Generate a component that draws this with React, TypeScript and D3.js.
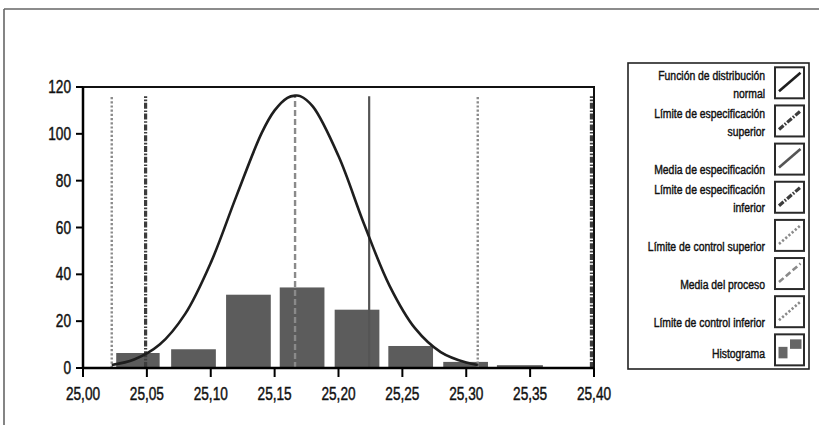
import React from "react";
import * as d3 from "d3";

// ---- data ----
const xTicks = [25.0, 25.05, 25.1, 25.15, 25.2, 25.25, 25.3, 25.35, 25.4];
const yTicks = [0, 20, 40, 60, 80, 100, 120];

const binLower = [25.026, 25.069, 25.112, 25.154, 25.197, 25.239, 25.282, 25.324];
const binUpper = [25.06, 25.104, 25.147, 25.189, 25.232, 25.274, 25.317, 25.36];
const binCounts = [6.4, 8.0, 31.3, 34.4, 24.9, 9.4, 2.6, 1.2];

const curveX = [25.0225, 25.04, 25.06, 25.08, 25.1, 25.12, 25.14, 25.15, 25.16, 25.166, 25.17, 25.18, 25.2, 25.22, 25.24, 25.26, 25.28, 25.3, 25.309];
const curveY = [1.3, 3.6, 10.0, 23.1, 44.9, 73.3, 100.5, 110.0, 115.4, 116.3, 116.1, 111.6, 90.5, 61.5, 35.1, 16.9, 6.8, 2.3, 1.3];

const limitNames = ["lci", "lei", "mediaProceso", "mediaEspec", "lcs", "les"];
const limitValues = [25.0225, 25.049, 25.166, 25.224, 25.309, 25.398];
const limitTop = 116;

const legendLabels = [
  ["Función de distribución", "normal"],
  ["Límite de especificación", "superior"],
  ["Media de especificación"],
  ["Límite de especificación", "inferior"],
  ["Límite de control superior"],
  ["Media del proceso"],
  ["Límite de control inferior"],
  ["Histograma"],
];
const legendKinds = ["normal", "les", "mediaEspec", "lei", "lcs", "mediaProceso", "lci", "hist"];

// ---- styles ----
const FONT = '"Liberation Sans", Arial, sans-serif';
const lineStyles: Record<string, { stroke: string; width: number; dash?: string }> = {
  normal: { stroke: "#1e1e1e", width: 2.6 },
  lci: { stroke: "#8a8a8a", width: 2.4, dash: "2.2,2" },
  lcs: { stroke: "#8a8a8a", width: 2.4, dash: "2.2,2" },
  lei: { stroke: "#3c3c3c", width: 3.2, dash: "6,1.6,1.6,1.6" },
  les: { stroke: "#3c3c3c", width: 3.2, dash: "6,1.6,1.6,1.6" },
  mediaProceso: { stroke: "#8a8a8a", width: 2.4, dash: "6,3" },
  mediaEspec: { stroke: "#555", width: 2.2 },
};

function NText(props: { x: number; y: number; anchor: string; size: number; squeeze: number; children: React.ReactNode }) {
  return (
    <text
      transform={`translate(${props.x},${props.y}) scale(${props.squeeze},1)`}
      dy="0.35em"
      textAnchor={props.anchor}
      fontSize={props.size}
      fill="#111"
      stroke="#111"
      strokeWidth={0.45}
    >
      {props.children}
    </text>
  );
}

export default function App() {
  const W = 819;
  const H = 425;
  const x = d3.scaleLinear().domain([25.0, 25.4]).range([83, 594]);
  const y = d3.scaleLinear().domain([0, 120]).range([368, 87]);
  const fmt = (v: number) => v.toFixed(2).replace(".", ",");

  const curvePts: [number, number][] = curveX.map((v, i) => [x(v), y(curveY[i])]);
  const linePath = d3.line().curve(d3.curveCatmullRom.alpha(0.5))(curvePts) || "";

  const legendX = 775;
  const iconW = 29;
  const iconH = 31;
  const legendTop = 67.3;
  const legendStep = 38.15;

  const renderIcon = (kind: string, top: number) => {
    const elems: React.ReactNode[] = [];
    elems.push(
      <rect key="b" x={legendX} y={top} width={iconW} height={iconH} fill="#fff" stroke="#2a2a2a" strokeWidth={2} />
    );
    if (kind === "hist") {
      elems.push(<rect key="s" x={legendX + 3.5} y={top + 12.5} width={9} height={11.5} fill="#666" />);
      elems.push(<rect key="l" x={legendX + 15} y={top + 5} width={11.5} height={9.5} fill="#666" />);
    } else {
      const st = lineStyles[kind];
      elems.push(
        <line
          key="l"
          x1={legendX + 4}
          y1={top + 24}
          x2={legendX + 25.5}
          y2={top + 5.5}
          stroke={st.stroke}
          strokeWidth={Math.max(2.6, st.width)}
          strokeDasharray={st.dash ? st.dash : undefined}
        />
      );
    }
    return elems;
  };

  return (
    <svg
      width={W}
      height={H}
      style={{ position: "absolute", left: 0, top: 0, background: "#fff" }}
      fontFamily={FONT}
    >
      {/* outer frame */}
      <line x1={4} y1={9} x2={W} y2={9} stroke="#666" strokeWidth={1.6} />
      <line x1={4} y1={9} x2={4} y2={H} stroke="#666" strokeWidth={1.6} />

      {/* plot border */}
      <rect x={x(25.0)} y={y(120)} width={x(25.4) - x(25.0)} height={y(0) - y(120)} fill="#fff" stroke="#111" strokeWidth={2} />

      {/* histogram */}
      {binCounts.map((c, i) => (
        <rect
          key={"b" + i}
          x={x(binLower[i])}
          y={y(c)}
          width={x(binUpper[i]) - x(binLower[i])}
          height={y(0) - y(c)}
          fill="#5c5c5c"
        />
      ))}

      {/* limit lines */}
      {limitNames.map((n, i) => {
        const st = lineStyles[n];
        return (
          <line
            key={n}
            x1={x(limitValues[i])}
            x2={x(limitValues[i])}
            y1={y(0)}
            y2={y(limitTop)}
            stroke={st.stroke}
            strokeWidth={st.width}
            strokeDasharray={st.dash ? st.dash : undefined}
          />
        );
      })}

      {/* normal curve */}
      <path d={linePath} fill="none" stroke={lineStyles.normal.stroke} strokeWidth={lineStyles.normal.width} strokeLinejoin="round" />

      {/* axes */}
      <line x1={x(25.0)} x2={x(25.4)} y1={y(0)} y2={y(0)} stroke="#000" strokeWidth={2.5} />
      <line x1={x(25.0)} x2={x(25.0)} y1={y(0)} y2={y(120)} stroke="#000" strokeWidth={2.5} />
      {yTicks.map((t) => (
        <g key={"yt" + t}>
          <line x1={x(25.0) - 7} x2={x(25.0)} y1={y(t)} y2={y(t)} stroke="#000" strokeWidth={2} />
          <NText x={x(25.0) - 12} y={y(t)} anchor="end" size={17.5} squeeze={0.78}>
            {t}
          </NText>
        </g>
      ))}
      {xTicks.map((t) => (
        <g key={"xt" + t}>
          <line x1={x(t)} x2={x(t)} y1={y(0)} y2={y(0) + 9} stroke="#000" strokeWidth={2} />
          <NText x={x(t)} y={394} anchor="middle" size={17.5} squeeze={0.78}>
            {fmt(t)}
          </NText>
        </g>
      ))}

      {/* legend */}
      <rect x={628} y={63} width={181} height={306} fill="#fff" stroke="#222" strokeWidth={1.6} />
      {legendLabels.map((lines, i) => {
        const top = legendTop + i * legendStep;
        const isLast = i === legendLabels.length - 1;
        const offsets = lines.length === 2 ? [7.5, 26] : [isLast ? 19 : 26];
        return (
          <g key={"lg" + i}>
            {lines.map((ln, j) => (
              <NText key={j} x={765} y={top + offsets[j]} anchor="end" size={13.5} squeeze={0.77}>
                {ln}
              </NText>
            ))}
            {renderIcon(legendKinds[i], top)}
          </g>
        );
      })}
    </svg>
  );
}
